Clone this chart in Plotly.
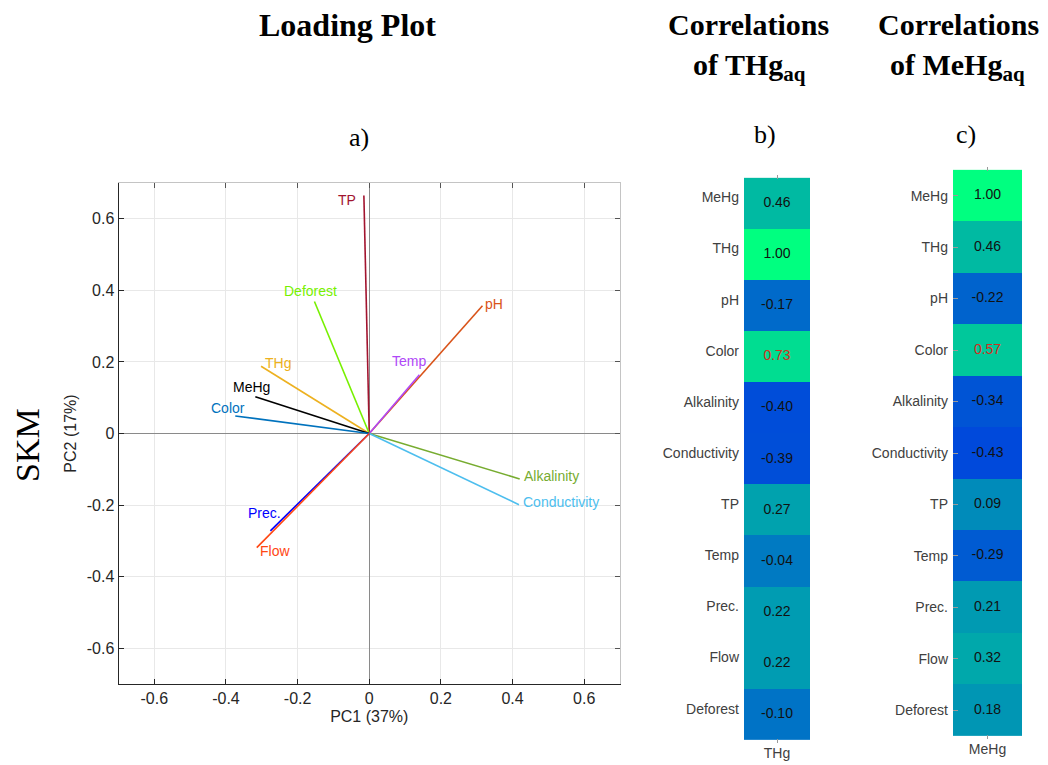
import plotly.graph_objects as go

# ---------------- data ----------------
variables = ["TP", "Deforest", "pH", "Temp", "THg", "MeHg", "Color",
             "Alkalinity", "Conductivity", "Prec.", "Flow"]
pc1 = [-0.015, -0.153, 0.316, 0.140, -0.302, -0.318, -0.374, 0.420, 0.418, -0.276, -0.314]
pc2 = [0.665, 0.369, 0.357, 0.164, 0.188, 0.103, 0.049, -0.127, -0.199, -0.272, -0.319]

tick_vals = [-0.6, -0.4, -0.2, 0, 0.2, 0.4, 0.6]
tick_text = ["-0.6", "-0.4", "-0.2", "0", "0.2", "0.4", "0.6"]

rows = ["MeHg", "THg", "pH", "Color", "Alkalinity", "Conductivity",
        "TP", "Temp", "Prec.", "Flow", "Deforest"]
corr_thg = [0.46, 1.00, -0.17, 0.73, -0.40, -0.39, 0.27, -0.04, 0.22, 0.22, -0.10]
corr_mehg = [1.00, 0.46, -0.22, 0.57, -0.34, -0.43, 0.09, -0.29, 0.21, 0.32, 0.18]

# ---------------- styles ----------------
W, H = 1048, 765
colors = {
    "TP": "#A2142F", "Deforest": "#77F000", "pH": "#D95319", "Temp": "#B048F8",
    "THg": "#EDB120", "MeHg": "#000000", "Color": "#0072BD", "Alkalinity": "#77AC30",
    "Conductivity": "#4DBEEE", "Prec.": "#0000FF", "Flow": "#FF4713",
}
label_offsets = {  # pixel shifts of label centre relative to vector end
    "TP": (-17, -4), "Deforest": (-4, 10), "pH": (12, 2), "Temp": (-10, 14),
    "THg": (17, 3), "MeHg": (-4, 10), "Color": (-7, 8), "Alkalinity": (32, 3),
    "Conductivity": (42, 3), "Prec.": (-6, 18), "Flow": (18, -3),
}
sans = "Arial, Liberation Sans, sans-serif"
serif = "Times New Roman, Liberation Serif, serif"
winter = [[0, "rgb(0,0,255)"], [1, "rgb(0,255,128)"]]


def px(x, y):
    return x / W, 1 - y / H


fig = go.Figure()

# ---------------- loading plot ----------------
annotations = []
for v, a, b in zip(variables, pc1, pc2):
    fig.add_trace(go.Scatter(x=[0, a], y=[0, b], mode="lines",
                             line=dict(color=colors[v], width=1.6),
                             showlegend=False, hoverinfo="skip",
                             xaxis="x", yaxis="y"))
    dx, dy = label_offsets[v]
    annotations.append(dict(x=a, y=b, xref="x", yref="y", text=v, showarrow=False,
                            xshift=dx, yshift=dy, xanchor="center", yanchor="middle",
                            font=dict(family=sans, size=14, color=colors[v])))

# dummy trace for the top/right mirror axes
fig.add_trace(go.Scatter(x=[None], y=[None], xaxis="x2", yaxis="y2",
                         showlegend=False, hoverinfo="skip"))

# ---------------- heatmaps ----------------
text_color = ["#D62D20" if r == "Color" else "#111111" for r in rows]

fig.add_trace(go.Heatmap(x=["THg"], y=rows, z=[[c] for c in corr_thg],
                         colorscale=winter, zmin=-1, zmax=1, showscale=False,
                         xaxis="x3", yaxis="y3", hoverinfo="skip"))
fig.add_trace(go.Scatter(x=["THg"] * len(rows), y=rows, mode="text",
                         text=[f"{c:.2f}" for c in corr_thg],
                         textfont=dict(family=sans, size=14, color=text_color),
                         xaxis="x3", yaxis="y3", showlegend=False, hoverinfo="skip"))

fig.add_trace(go.Heatmap(x=["MeHg"], y=rows, z=[[c] for c in corr_mehg],
                         colorscale=winter, zmin=-1, zmax=1, showscale=False,
                         xaxis="x4", yaxis="y4", hoverinfo="skip"))
fig.add_trace(go.Scatter(x=["MeHg"] * len(rows), y=rows, mode="text",
                         text=[f"{c:.2f}" for c in corr_mehg],
                         textfont=dict(family=sans, size=14, color=text_color),
                         xaxis="x4", yaxis="y4", showlegend=False, hoverinfo="skip"))

# ---------------- titles / labels ----------------
def add_text(x, y, text, size, bold=False, angle=0, family=serif):
    xx, yy = px(x, y)
    annotations.append(dict(x=xx, y=yy, xref="paper", yref="paper", text=text,
                            showarrow=False, xanchor="center", yanchor="middle",
                            textangle=angle,
                            font=dict(family=family, size=size, color="black",
                                      weight="bold" if bold else "normal")))

add_text(347, 25, "Loading Plot", 32, bold=True)
add_text(748, 25, "Correlations", 30, bold=True)
add_text(749, 67, "of THg<sub>aq</sub>", 30, bold=True)
add_text(958, 25, "Correlations", 30, bold=True)
add_text(957, 67, "of MeHg<sub>aq</sub>", 30, bold=True)
add_text(359, 137, "a)", 26)
add_text(765, 134, "b)", 26)
add_text(966, 134, "c)", 26)
add_text(27, 445, "SKM", 34, angle=-90)

lx0, lx1 = 118.5 / W, 620 / W
ly0, ly1 = 1 - 684 / H, 1 - 183 / H

axis_common = dict(range=[-0.7, 0.7], tickvals=tick_vals, ticktext=tick_text,
                   showgrid=True, gridcolor="#e8e8e8", gridwidth=1,
                   zeroline=True, zerolinecolor="#8a8a8a", zerolinewidth=1,
                   showline=True, linecolor="#262626", linewidth=1,
                   ticks="inside", ticklen=5, tickcolor="#262626",
                   tickfont=dict(family=sans, size=16, color="#262626"))

fig.update_layout(
    width=W, height=H, autosize=False,
    margin=dict(l=0, r=0, t=0, b=0),
    paper_bgcolor="white", plot_bgcolor="white",
    annotations=annotations,
    xaxis=dict(domain=[lx0, lx1], anchor="y",
               title=dict(text="PC1 (37%)", standoff=4,
                          font=dict(family=sans, size=16, color="#262626")),
               **axis_common),
    yaxis=dict(domain=[ly0, ly1], anchor="x",
               title=dict(text="PC2 (17%)", standoff=6,
                          font=dict(family=sans, size=16, color="#262626")),
               **axis_common),
    xaxis2=dict(domain=[lx0, lx1], anchor="y2", overlaying="x", side="top",
                range=[-0.7, 0.7], tickvals=tick_vals, showticklabels=False,
                showgrid=False, zeroline=False, showline=True, linecolor="#c4c4c4",
                ticks="inside", ticklen=5, tickcolor="#555555"),
    yaxis2=dict(domain=[ly0, ly1], anchor="x2", overlaying="y", side="right",
                range=[-0.7, 0.7], tickvals=tick_vals, showticklabels=False,
                showgrid=False, zeroline=False, showline=True, linecolor="#c4c4c4",
                ticks="inside", ticklen=5, tickcolor="#555555"),
    xaxis3=dict(domain=[744 / W, 810 / W], anchor="y3",
                ticks="inside", ticklen=4, tickcolor="#9a9a9a", mirror="ticks",
                showline=False, showgrid=False,
                tickfont=dict(family=sans, size=14, color="#404040")),
    yaxis3=dict(domain=[1 - 743 / H, 1 - 175 / H], anchor="x3",
                autorange="reversed", ticks="", showgrid=False, showline=False,
                ticklabelshift=6, ticklabelstandoff=4,
                tickfont=dict(family=sans, size=14, color="#404040")),
    xaxis4=dict(domain=[953 / W, 1022 / W], anchor="y4",
                ticks="inside", ticklen=4, tickcolor="#9a9a9a", mirror="ticks",
                showline=False, showgrid=False,
                tickfont=dict(family=sans, size=14, color="#404040")),
    yaxis4=dict(domain=[1 - 739 / H, 1 - 167 / H], anchor="x4",
                autorange="reversed", ticks="inside", ticklen=5, tickcolor="#9a9a9a",
                showgrid=False, showline=False, ticklabelstandoff=4,
                tickfont=dict(family=sans, size=14, color="#404040")),
)

fig.write_html("out.html",
               config={"displayModeBar": False},
               post_script="document.body.style.margin='0px';"
                           "document.body.style.overflow='hidden';")
